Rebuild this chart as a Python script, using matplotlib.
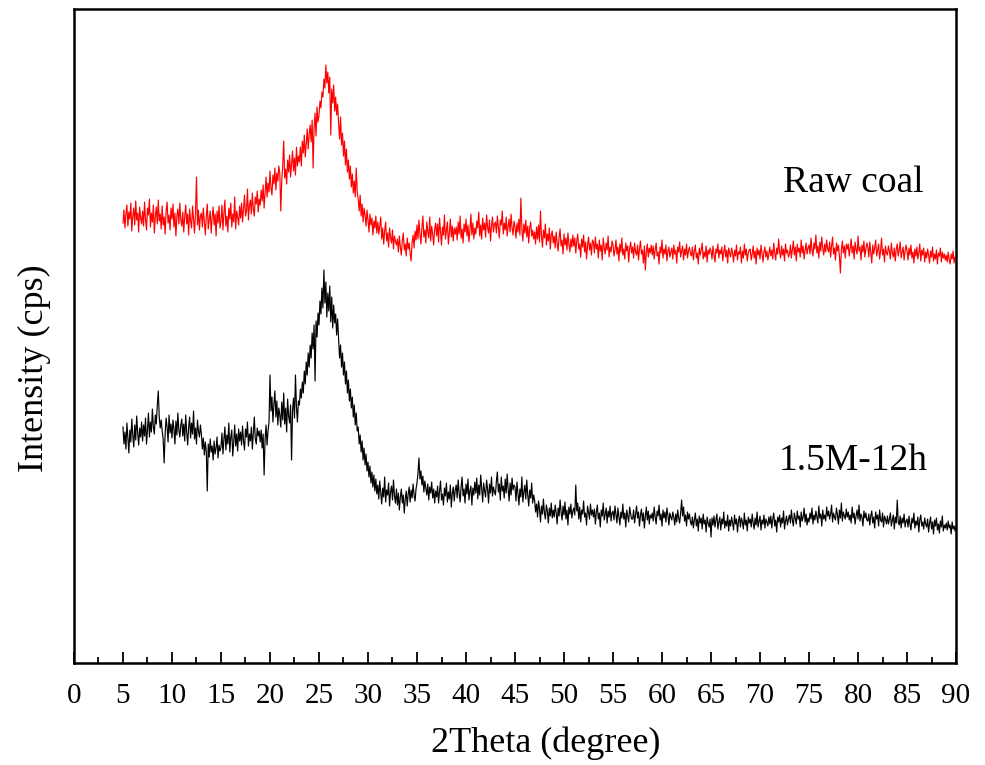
import numpy as np
import matplotlib
matplotlib.use("Agg")
from matplotlib import pyplot as plt
from matplotlib.ticker import MultipleLocator

# scan settings (degree)
scan_start, scan_stop, scan_step = 5.0, 90.0, 0.1
two_theta = np.round(np.arange(scan_start, scan_stop + scan_step / 2, scan_step), 1)

# Raw coal (already stacked above the other pattern)
raw_coal = [
    440, 453, 435, 449, 458, 437, 451, 444, 460, 432, 447, 455, 438, 462, 443, 450, 431, 456, 445, 439,
    452, 437, 461, 444, 433, 455, 448, 464, 436, 450, 441, 458, 430, 447, 456, 439, 463, 442, 449, 434,
    457, 438, 446, 429, 452, 461, 440, 448, 433, 455, 444, 459, 436, 450, 427, 447, 454, 439, 460, 443,
    437, 451, 431, 446, 458, 439, 449, 428, 454, 442, 435, 457, 444, 430, 450, 486, 438, 453, 433, 447,
    450, 436, 455, 441, 428, 447, 459, 434, 444, 452, 430, 446, 456, 438, 449, 427, 452, 440, 457, 435,
    442, 458, 433, 450, 463, 437, 447, 431, 455, 444, 460, 436, 449, 441, 466, 434, 452, 446, 438, 457,
    445, 460, 441, 455, 468, 447, 452, 474, 443, 458, 463, 449, 470, 454, 447, 466, 459, 472, 451, 464,
    458, 473, 462, 478, 455, 470, 486, 466, 480, 471, 492, 475, 468, 488, 479, 495, 473, 490, 482, 497,
    490, 452, 483, 497, 522, 485, 494, 479, 503, 491, 508, 486, 499, 512, 492, 505, 488, 516, 497, 507,
    501, 516, 497, 522, 510, 528, 506, 519, 534, 514, 529, 538, 521, 543, 495, 536, 550, 527, 556, 541,
    548, 562, 555, 571, 566, 584, 575, 598, 580, 591, 570, 586, 528, 574, 560, 578, 552, 566, 548, 559,
    540, 524, 546, 518, 530, 507, 522, 498, 514, 491, 503, 484, 497, 476, 489, 470, 482, 466, 495, 471,
    464, 452, 468, 447, 459, 441, 455, 448, 437, 453, 443, 431, 449, 438, 445, 428, 442, 435, 447, 430,
    441, 429, 437, 446, 424, 435, 419, 432, 441, 422, 430, 416, 435, 426, 420, 433, 414, 427, 422, 418,
    424, 411, 427, 416, 408, 422, 430, 413, 419, 407, 425, 414, 420, 409, 402, 421, 428, 415, 432, 423,
    438, 424, 443, 429, 419, 435, 447, 426, 433, 420, 441, 431, 425, 446, 422, 437, 429, 418, 434, 440,
    427, 439, 421, 445, 432, 418, 436, 428, 448, 424, 433, 441, 419, 430, 444, 426, 437, 422, 435, 429,
    436, 423, 441, 429, 447, 425, 434, 420, 439, 431, 444, 427, 438, 421, 433, 449, 428, 440, 424, 435,
    429, 442, 435, 451, 427, 438, 424, 445, 433, 440, 426, 448, 436, 430, 443, 422, 437, 446, 431, 439,
    441, 430, 447, 436, 425, 443, 438, 452, 429, 440, 433, 446, 427, 437, 444, 431, 449, 435, 428, 442,
    436, 425, 440, 431, 444, 428, 465, 434, 422, 439, 430, 443, 426, 437, 420, 435, 441, 427, 433, 424,
    431, 419, 436, 424, 438, 421, 452, 427, 416, 433, 425, 439, 418, 429, 422, 435, 414, 428, 432, 420,
    427, 415, 431, 420, 412, 426, 434, 417, 423, 409, 429, 418, 425, 413, 430, 419, 411, 424, 416, 428,
    417, 425, 410, 422, 429, 414, 419, 406, 424, 416, 428, 411, 421, 404, 418, 426, 413, 420, 408, 423,
    421, 410, 426, 414, 419, 405, 423, 412, 418, 403, 425, 415, 409, 420, 413, 427, 406, 416, 411, 422,
    418, 407, 413, 423, 409, 416, 402, 419, 411, 425, 408, 414, 404, 420, 412, 417, 401, 415, 421, 410,
    416, 405, 420, 411, 408, 418, 403, 414, 422, 409, 413, 400, 417, 393, 412, 419, 406, 415, 410, 418,
    408, 417, 404, 413, 420, 407, 411, 399, 416, 410, 423, 405, 414, 409, 418, 402, 412, 416, 406, 411,
    415, 404, 418, 409, 413, 400, 416, 411, 421, 406, 412, 417, 403, 414, 408, 419, 405, 412, 416, 409,
    407, 416, 403, 412, 418, 405, 410, 399, 415, 408, 413, 420, 404, 411, 406, 417, 401, 413, 409, 415,
    412, 404, 417, 408, 401, 414, 410, 419, 405, 413, 409, 416, 402, 411, 418, 406, 413, 400, 415, 410,
    406, 415, 410, 401, 413, 407, 418, 403, 411, 409, 416, 400, 412, 405, 419, 408, 414, 402, 410, 413,
    414, 403, 409, 417, 405, 412, 399, 415, 408, 413, 404, 418, 410, 401, 411, 416, 406, 412, 403, 409,
    416, 407, 413, 404, 420, 410, 403, 415, 409, 424, 411, 405, 417, 408, 414, 402, 419, 410, 413, 406,
    409, 418, 405, 414, 422, 408, 416, 402, 419, 411, 415, 406, 423, 410, 417, 404, 413, 420, 409, 415,
    418, 409, 425, 413, 407, 420, 414, 428, 410, 417, 405, 421, 412, 426, 415, 408, 419, 411, 423, 414,
    411, 421, 406, 417, 426, 409, 415, 403, 420, 412, 418, 407, 390, 413, 422, 410, 417, 405, 419, 414,
    419, 407, 415, 424, 410, 417, 404, 421, 413, 409, 427, 412, 416, 403, 418, 411, 422, 406, 414, 420,
    416, 406, 421, 411, 400, 418, 409, 415, 423, 407, 413, 419, 404, 412, 425, 408, 414, 401, 417, 410,
    408, 417, 412, 404, 420, 410, 406, 415, 402, 414, 419, 407, 413, 421, 405, 411, 416, 403, 412, 418,
    412, 403, 415, 408, 418, 405, 411, 400, 414, 407, 416, 404, 410, 419, 402, 413, 408, 415, 401, 411,
    405, 414, 408, 400, 412, 406, 416, 402, 409, 404, 413, 399, 410, 407, 415, 401, 411, 405, 409, 403,
    408, 401, 411, 403, 399, 409, 404, 412, 400, 406, 404,
]

# 1.5M-12h
treated = [
    236, 219, 231, 214, 240, 225, 210, 233, 221, 244, 228, 216, 238, 223, 247, 230, 218, 235, 226, 241,
    222, 238, 227, 245, 219, 233, 250, 226, 241, 231, 254, 236, 229, 248, 239, 258, 272, 246, 235, 243,
    232, 224, 200, 229, 245, 236, 221, 248, 230, 239, 225, 243, 234, 219, 242, 228, 250, 233, 226, 238,
    244, 227, 239, 222, 248, 231, 218, 236, 246, 225, 240, 229, 252, 224, 235, 219, 243, 232, 226, 238,
    229, 214, 225, 208, 221, 212, 172, 219, 206, 224, 211, 217, 203, 222, 209, 215, 226, 205, 218, 212,
    216, 230, 209, 224, 236, 213, 228, 219, 240, 211, 226, 233, 207, 221, 238, 217, 229, 212, 234, 222,
    231, 218, 237, 222, 213, 234, 226, 241, 217, 229, 222, 236, 214, 230, 246, 224, 219, 235, 227, 232,
    221, 233, 215, 229, 188, 224, 238, 218, 232, 241, 288, 252, 266, 241, 259, 272, 246, 262, 238, 255,
    248, 236, 261, 243, 270, 239, 255, 231, 264, 247, 240, 258, 203, 252, 265, 245, 288, 256, 241, 262,
    258, 274, 265, 281, 270, 292, 279, 301, 288, 310, 296, 318, 305, 330, 314, 338, 282, 342, 326, 350,
    338, 362, 349, 375, 355, 393, 360, 381, 346, 370, 352, 377, 341, 366, 335, 358, 340, 349, 328, 344,
    325, 305, 318, 296, 310, 288, 301, 279, 292, 270, 283, 262, 274, 255, 266, 246, 258, 238, 250, 232,
    236, 219, 228, 211, 222, 203, 215, 198, 209, 192, 201, 186, 197, 180, 191, 176, 188, 172, 184, 169,
    178, 164, 182, 170, 159, 175, 166, 186, 161, 173, 168, 180, 157, 171, 177, 163, 183, 167, 160, 174,
    158, 170, 153, 166, 174, 160, 168, 150, 164, 172, 157, 169, 176, 161, 173, 165, 179, 168, 162, 174,
    180, 190, 205, 184, 192, 178, 187, 171, 182, 175, 168, 179, 163, 176, 170, 181, 165, 174, 160, 172,
    166, 177, 160, 172, 182, 163, 169, 158, 175, 167, 180, 161, 171, 164, 178, 156, 170, 176, 162, 173,
    178, 165, 183, 170, 161, 176, 186, 167, 174, 160, 179, 169, 184, 163, 172, 177, 158, 175, 168, 181,
    170, 185, 164, 178, 168, 188, 175, 161, 180, 172, 166, 183, 174, 160, 179, 170, 186, 167, 176, 171,
    168, 182, 191, 171, 179, 163, 186, 172, 177, 165, 184, 170, 189, 174, 162, 180, 168, 185, 173, 178,
    176, 162, 181, 169, 158, 174, 166, 186, 161, 171, 178, 164, 183, 168, 157, 173, 165, 180, 160, 168,
    163, 151, 159, 146, 162, 154, 141, 157, 149, 164, 150, 144, 158, 152, 140, 155, 147, 160, 145, 153,
    146, 158, 150, 139, 155, 147, 163, 151, 143, 157, 148, 161, 144, 153, 138, 156, 149, 159, 145, 152,
    155, 148, 178, 152, 160, 144, 156, 141, 153, 149, 162, 146, 150, 138, 157, 151, 144, 159, 148, 153,
    146, 154, 139, 151, 158, 144, 150, 136, 153, 147, 160, 143, 149, 155, 140, 152, 146, 157, 142, 150,
    152, 143, 157, 148, 140, 155, 146, 138, 151, 145, 159, 144, 150, 136, 153, 147, 141, 156, 149, 144,
    144, 153, 140, 149, 157, 145, 151, 137, 148, 154, 142, 150, 135, 147, 156, 143, 152, 139, 148, 145,
    150, 142, 156, 146, 139, 152, 147, 158, 143, 149, 137, 153, 145, 151, 141, 155, 148, 138, 150, 146,
    143, 151, 146, 138, 149, 141, 153, 145, 140, 150, 163, 147, 156, 142, 148, 137, 151, 144, 149, 141,
    138, 146, 135, 143, 150, 137, 144, 132, 147, 140, 145, 134, 149, 139, 143, 131, 146, 140, 136, 144,
    126, 145, 138, 147, 136, 143, 149, 134, 141, 146, 133, 144, 139, 151, 135, 142, 137, 148, 132, 143,
    137, 146, 140, 133, 148, 139, 144, 131, 142, 147, 136, 145, 141, 134, 150, 138, 143, 132, 146, 140,
    144, 136, 149, 140, 134, 145, 138, 151, 136, 142, 147, 133, 143, 139, 148, 135, 144, 141, 137, 146,
    139, 147, 135, 144, 150, 137, 143, 131, 146, 141, 148, 136, 145, 140, 152, 134, 142, 147, 138, 144,
    148, 140, 153, 143, 137, 150, 145, 139, 152, 144, 147, 136, 151, 142, 146, 155, 141, 149, 138, 145,
    141, 150, 144, 155, 139, 148, 143, 152, 146, 140, 157, 145, 149, 137, 153, 144, 148, 142, 156, 147,
    152, 144, 149, 158, 141, 150, 146, 143, 155, 148, 139, 153, 145, 160, 142, 151, 147, 144, 154, 146,
    151, 143, 148, 140, 156, 145, 150, 139, 147, 153, 144, 158, 142, 149, 146, 137, 152, 145, 150, 143,
    142, 149, 138, 147, 152, 140, 146, 135, 151, 144, 148, 137, 153, 143, 141, 150, 136, 147, 144, 139,
    147, 139, 144, 150, 137, 143, 148, 134, 146, 140, 163, 141, 138, 147, 135, 145, 140, 149, 136, 142,
    144, 136, 147, 139, 133, 145, 140, 150, 135, 142, 138, 146, 131, 143, 148, 137, 141, 134, 145, 139,
    136, 144, 131, 140, 146, 134, 141, 129, 143, 137, 145, 133, 139, 130, 142, 136, 147, 132, 138, 135,
    140, 133, 142, 135, 138, 129, 141, 134, 137, 132, 136,
]

labels = ["Raw coal", "1.5M-12h"]

plt.rcParams['font.family'] = ['Liberation Serif', 'DejaVu Serif']

fig = plt.figure(figsize=(9.85, 7.65), dpi=100)
ax = fig.add_axes([0.0751, 0.1333, 0.8955, 0.8549])

ax.plot(two_theta, raw_coal, color='#ff0000', lw=0.85)
ax.plot(two_theta, treated, color='black', lw=0.85)

ax.text(72.3, 471, labels[0], fontsize=27, va='baseline', ha='left')
ax.text(71.9, 193, labels[1], fontsize=27, va='baseline', ha='left')

ax.set_xlim(0, 90)
ax.set_ylim(0, 654)
ax.xaxis.set_major_locator(MultipleLocator(5))
ax.xaxis.set_minor_locator(MultipleLocator(2.5))
ax.set_yticks([])
ax.tick_params(axis='x', which='major', direction='in', length=8, width=1.3,
               labelsize=21, pad=14.5)
ax.tick_params(axis='x', which='minor', direction='in', length=4, width=1.3)
for s in ax.spines.values():
    s.set_linewidth(1.8)

ax.set_xlabel("2Theta (degree)", fontsize=26)
ax.xaxis.set_label_coords(0.535, -0.097)
ax.xaxis.label.set_va('top')
ax.set_ylabel("Intensity (cps)", fontsize=26)
ax.yaxis.set_label_coords(-0.026, 0.451)

fig.savefig("out.png", dpi=100)
